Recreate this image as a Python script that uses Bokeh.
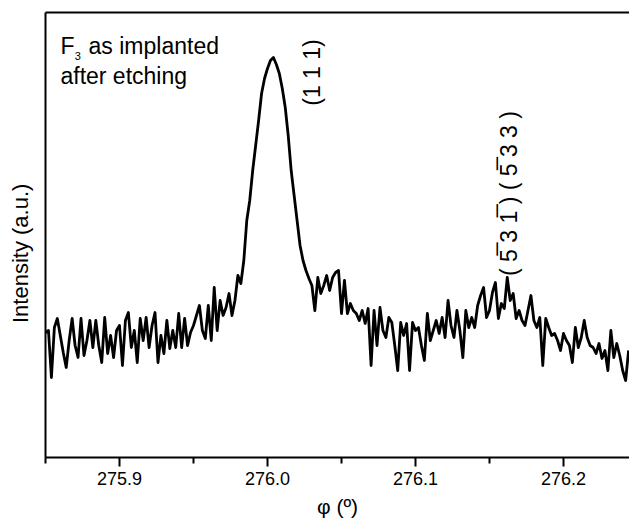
import math
from bokeh.plotting import figure
from bokeh.models import Range1d, FixedTicker, LinearAxis, Label, PrintfTickFormatter
from bokeh.embed import file_html
from bokeh.resources import INLINE

# phi scan positions (degrees)
phi = [
    275.850, 275.852, 275.854, 275.856, 275.858, 275.860, 275.862, 275.864, 275.866, 275.868,
    275.870, 275.872, 275.874, 275.876, 275.878, 275.880, 275.882, 275.884, 275.886, 275.888,
    275.890, 275.892, 275.894, 275.896, 275.898, 275.900, 275.902, 275.904, 275.906, 275.908,
    275.910, 275.912, 275.914, 275.916, 275.918, 275.920, 275.922, 275.924, 275.926, 275.928,
    275.930, 275.932, 275.934, 275.936, 275.938, 275.940, 275.942, 275.944, 275.946, 275.948,
    275.950, 275.952, 275.954, 275.956, 275.958, 275.960, 275.962, 275.964, 275.966, 275.968,
    275.970, 275.972, 275.974, 275.976, 275.978, 275.980, 275.982, 275.984, 275.986, 275.988,
    275.990, 275.992, 275.994, 275.996, 275.998, 276.000, 276.002, 276.004, 276.006, 276.008,
    276.010, 276.012, 276.014, 276.016, 276.018, 276.020, 276.022, 276.024, 276.026, 276.028,
    276.030, 276.032, 276.034, 276.036, 276.038, 276.040, 276.042, 276.044, 276.046, 276.048,
    276.050, 276.052, 276.054, 276.056, 276.058, 276.060, 276.062, 276.064, 276.066, 276.068,
    276.070, 276.072, 276.074, 276.076, 276.078, 276.080, 276.082, 276.084, 276.086, 276.088,
    276.090, 276.092, 276.094, 276.096, 276.098, 276.100, 276.102, 276.104, 276.106, 276.108,
    276.110, 276.112, 276.114, 276.116, 276.118, 276.120, 276.122, 276.124, 276.126, 276.128,
    276.130, 276.132, 276.134, 276.136, 276.138, 276.140, 276.142, 276.144, 276.146, 276.148,
    276.150, 276.152, 276.154, 276.156, 276.158, 276.160, 276.162, 276.164, 276.166, 276.168,
    276.170, 276.172, 276.174, 276.176, 276.178, 276.180, 276.182, 276.184, 276.186, 276.188,
    276.190, 276.192, 276.194, 276.196, 276.198, 276.200, 276.202, 276.204, 276.206, 276.208,
    276.210, 276.212, 276.214, 276.216, 276.218, 276.220, 276.222, 276.224, 276.226, 276.228,
    276.230, 276.232, 276.234, 276.236, 276.238, 276.240, 276.242, 276.244,
]

# intensity (a.u.)
intensity = [
    125, 127, 80, 130, 139, 122, 105, 90, 117, 139,
    112, 100, 139, 102, 117, 137, 110, 137, 112, 95,
    140, 104, 122, 100, 127, 132, 92, 137, 145, 110,
    127, 95, 139, 117, 140, 110, 132, 145, 95, 122,
    104, 137, 109, 127, 110, 144, 110, 139, 112, 125,
    132, 142, 152, 127, 119, 152, 117, 170, 127, 157,
    142, 150, 164, 142, 157, 182, 174, 197, 237, 257,
    287, 312, 337, 364, 379, 389, 397, 400, 393, 384,
    369, 350, 322, 287, 262, 237, 212, 197, 187, 179,
    172, 147, 180, 164, 172, 182, 167, 180, 185, 187,
    144, 177, 144, 154, 147, 144, 137, 147, 134, 149,
    92, 147, 112, 150, 127, 120, 140, 135, 112, 87,
    135, 122, 134, 87, 135, 127, 130, 112, 97, 144,
    117, 127, 137, 124, 140, 120, 157, 132, 120, 147,
    127, 100, 147, 130, 140, 130, 152, 162, 170, 140,
    147, 165, 175, 139, 154, 149, 180, 157, 164, 139,
    147, 137, 132, 147, 162, 137, 130, 140, 92, 139,
    130, 122, 124, 117, 107, 124, 117, 112, 95, 130,
    110, 120, 137, 120, 112, 110, 104, 114, 99, 107,
    87, 127, 100, 114, 102, 87, 77, 107,
]

major_ticks = [275.9, 276.0, 276.1, 276.2]
minor_ticks = [275.85, 275.95, 276.05, 276.15]

FONT = "Liberation Sans"

p = figure(width=629, height=522,
           x_range=Range1d(275.85, 276.2446), y_range=Range1d(0, 445),
           output_backend="svg", toolbar_location=None,
           min_border_left=45, min_border_right=0, min_border_top=12, min_border_bottom=65)
p.background_fill_color = "white"
p.border_fill_color = "white"
p.outline_line_color = None
p.xgrid.visible = False
p.ygrid.visible = False

p.line(phi, intensity, line_color="black", line_width=2.8, line_join="round")

xa = p.xaxis[0]
xa.ticker = FixedTicker(ticks=major_ticks, minor_ticks=minor_ticks)
xa.formatter = PrintfTickFormatter(format="%.1f")
xa.axis_line_width = 2
xa.axis_line_color = "black"
xa.major_tick_line_width = 2
xa.minor_tick_line_width = 2
xa.major_tick_line_color = "black"
xa.minor_tick_line_color = "black"
xa.major_tick_out = 9
xa.major_tick_in = 0
xa.minor_tick_out = 6
xa.minor_tick_in = 0
xa.major_label_standoff = 5
xa.major_label_text_font = FONT
xa.major_label_text_font_size = "18px"
xa.major_label_text_color = "black"
xa.axis_label = "φ (º)"
xa.axis_label_text_font = FONT
xa.axis_label_text_font_size = "21px"
xa.axis_label_text_font_style = "normal"
xa.axis_label_text_color = "black"
xa.axis_label_standoff = 7

ya = p.yaxis[0]
ya.ticker = FixedTicker(ticks=[])
ya.axis_line_width = 2
ya.axis_line_color = "black"
ya.major_tick_line_color = None
ya.minor_tick_line_color = None
# trailing no-break spaces nudge the title a little below the frame centre, as in the original
ya.axis_label = "Intensity (a.u.)" + "\u00a0" * 6
ya.axis_label_text_font = FONT
ya.axis_label_text_font_size = "22px"
ya.axis_label_text_font_style = "normal"
ya.axis_label_text_color = "black"
ya.axis_label_standoff = 13

top = LinearAxis(ticker=FixedTicker(ticks=[]), axis_line_width=2, axis_line_color="black",
                 major_tick_line_color=None, minor_tick_line_color=None,
                 major_label_text_font_size="0px")
p.add_layout(top, "above")

def lab(x, y, text, size, angle=0.0, align="left", baseline="alphabetic"):
    p.add_layout(Label(x=x, y=y, text=text, text_font=FONT, text_font_size=size,
                       text_color="black", angle=angle, text_align=align,
                       text_baseline=baseline))

lab(275.8601, 412, "F", "23px")
lab(275.8697, 402, "3", "11px")
lab(275.8791, 412, "as implanted", "23px")
lab(275.8601, 382, "after etching", "23px")

lab(276.0304, 385, "(1 1 1)", "23px", angle=math.pi / 2, align="center", baseline="middle")
lab(276.1635, 264, "( 5\u0305 3 1\u0305 ) ( 5\u0305 3 3 )", "23px", angle=math.pi / 2,
    align="center", baseline="middle")

open("out.html", "w").write(file_html(p, INLINE))
